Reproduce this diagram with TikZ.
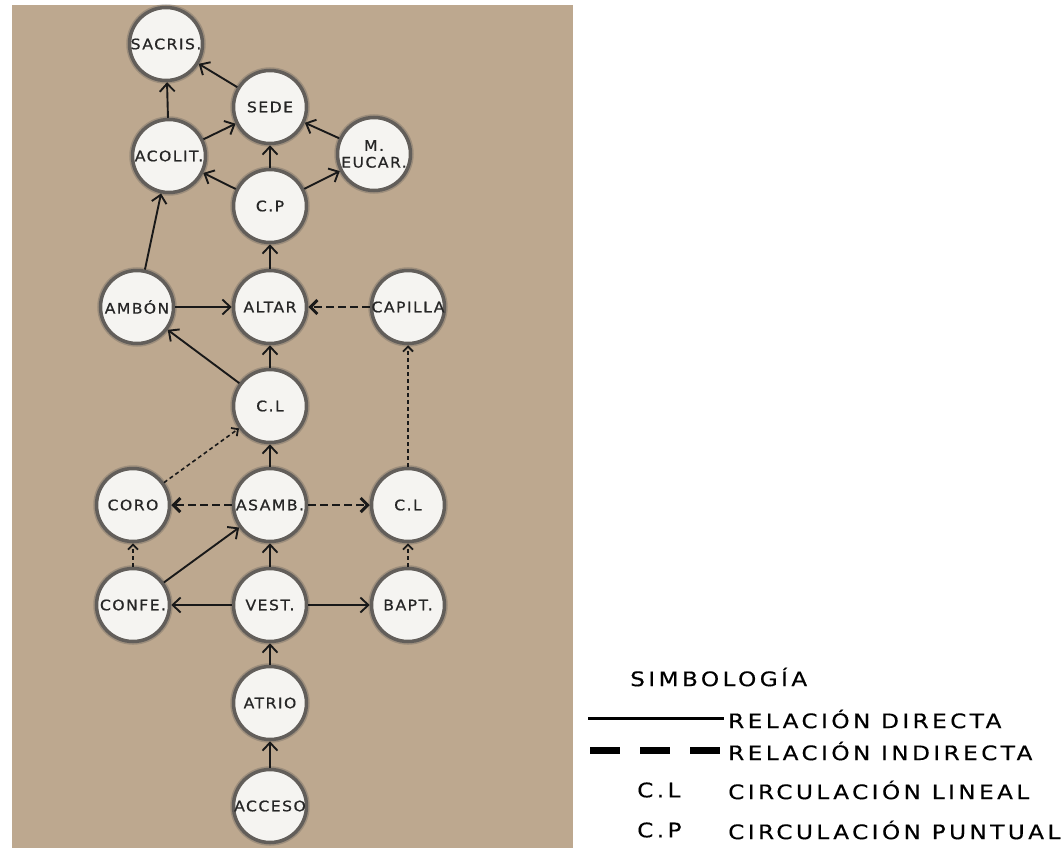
\documentclass[tikz,border=0pt]{standalone}
\usepackage{fontspec}
\usetikzlibrary{arrows.meta}
\newfontfamily\wide[FakeStretch=1.08,LetterSpace=10,FakeBold=0.7]{DejaVu Sans}
\newfontfamily\widel[FakeStretch=1.16,LetterSpace=17,FakeBold=0.4]{DejaVu Sans}
\definecolor{paper}{RGB}{189,168,143}
\definecolor{ring}{RGB}{98,94,90}
\definecolor{disc}{RGB}{245,244,241}
\tikzset{
  room/.style={circle, minimum size=73pt, inner sep=0pt, fill=disc, draw=ring, line width=3.5pt,
     preaction={draw=ring, line width=6.5pt, draw opacity=0.35},
     label={[font=\wide\fontsize{14.5}{15}\selectfont, text=black!85]center:#1}},
  direct/.style={draw=black!90, line width=1.9pt, -{Straight Barb[length=8pt,width=15pt,line width=1.9pt]}},
  indirect/.style={draw=black!90, line width=1.6pt, dash pattern=on 4pt off 3pt, -{Straight Barb[length=5pt,width=10pt,line width=1.8pt]}},
  indirectbold/.style={draw=black!90, line width=2.8pt, dash pattern=on 8pt off 4pt, -{Straight Barb[length=7pt,width=14pt,line width=3pt]}},
  legtext/.style={anchor=west, font=\widel\fontsize{20}{21}\selectfont, inner sep=0pt}
}
\begin{document}
\begin{tikzpicture}[x=1pt,y=-1pt]
\useasboundingbox (0,0) rectangle (1064,848);
\fill[paper] (12,5) rectangle (573,848);

\node[room=SACRIS.] (sacris) at (166,44) {};
\node[room=SEDE] (sede) at (270,107) {};
\node[room=ACOLIT.] (acolit) at (169,156) {};
\node[room={\shortstack{M.\\[3pt]EUCAR.}}] (eucar) at (374,154) {};
\node[room=C.P] (cp) at (270,206) {};
\node[room=AMBÓN] (ambon) at (137,307) {};
\node[room=ALTAR] (altar) at (270,307) {};
\node[room=CAPILLA] (capilla) at (408,307) {};
\node[room=C.L] (cl) at (270,406) {};
\node[room=CORO] (coro) at (133,505) {};
\node[room=ASAMB.] (asamb) at (270,505) {};
\node[room=C.L] (clr) at (408,505) {};
\node[room=CONFE.] (confe) at (133,605) {};
\node[room=VEST.] (vest) at (270,605) {};
\node[room=BAPT.] (bapt) at (408,605) {};
\node[room=ATRIO] (atrio) at (270,703) {};
\node[room=ACCESO] (acceso) at (270,806) {};

\draw[direct] (sede) -- (sacris);
\draw[direct] (acolit) -- (sacris);
\draw[direct] (acolit) -- (sede);
\draw[direct] (eucar) -- (sede);
\draw[direct] (cp) -- (sede);
\draw[direct] (cp) -- (acolit);
\draw[direct] (cp) -- (eucar);
\draw[direct] (ambon) -- (acolit);
\draw[direct] (altar) -- (cp);
\draw[direct] (ambon) -- (altar);
\draw[indirectbold] (capilla) -- (altar);
\draw[direct] (cl) -- (altar);
\draw[direct] (cl) -- (ambon);
\draw[indirect] (coro) -- (cl);
\draw[indirect] (clr) -- (capilla);
\draw[direct] (asamb) -- (cl);
\draw[indirectbold] (asamb) -- (coro);
\draw[indirectbold] (asamb) -- (clr);
\draw[indirect] (confe) -- (coro);
\draw[indirect] (bapt) -- (clr);
\draw[direct] (confe) -- (asamb);
\draw[direct] (vest) -- (asamb);
\draw[direct] (vest) -- (confe);
\draw[direct] (vest) -- (bapt);
\draw[direct] (atrio) -- (vest);
\draw[direct] (acceso) -- (atrio);

% legend
\node[legtext] (simb) at (630,677) {SIMBOLOGÍA};
\coordinate (ls1) at (588,718);
\coordinate (le1) at (724,718);
\draw[line width=3pt] (ls1) -- (le1);
\node[legtext] (rd) at (728,719) {RELACIÓN DIRECTA};
\coordinate (ls2) at (590,750);
\coordinate (le2) at (720,750);
\draw[line width=7pt, dash pattern=on 30pt off 20pt] (ls2) -- (le2);
\node[legtext] (ri) at (728,751) {RELACIÓN INDIRECTA};
\node[legtext] (cl1) at (637,790) {C.L};
\node[legtext] (cln) at (728,790) {CIRCULACIÓN LINEAL};
\node[legtext] (cp1) at (637,830) {C.P};
\node[legtext] (cpn) at (728,830) {CIRCULACIÓN PUNTUAL};
\end{tikzpicture}
\end{document}
